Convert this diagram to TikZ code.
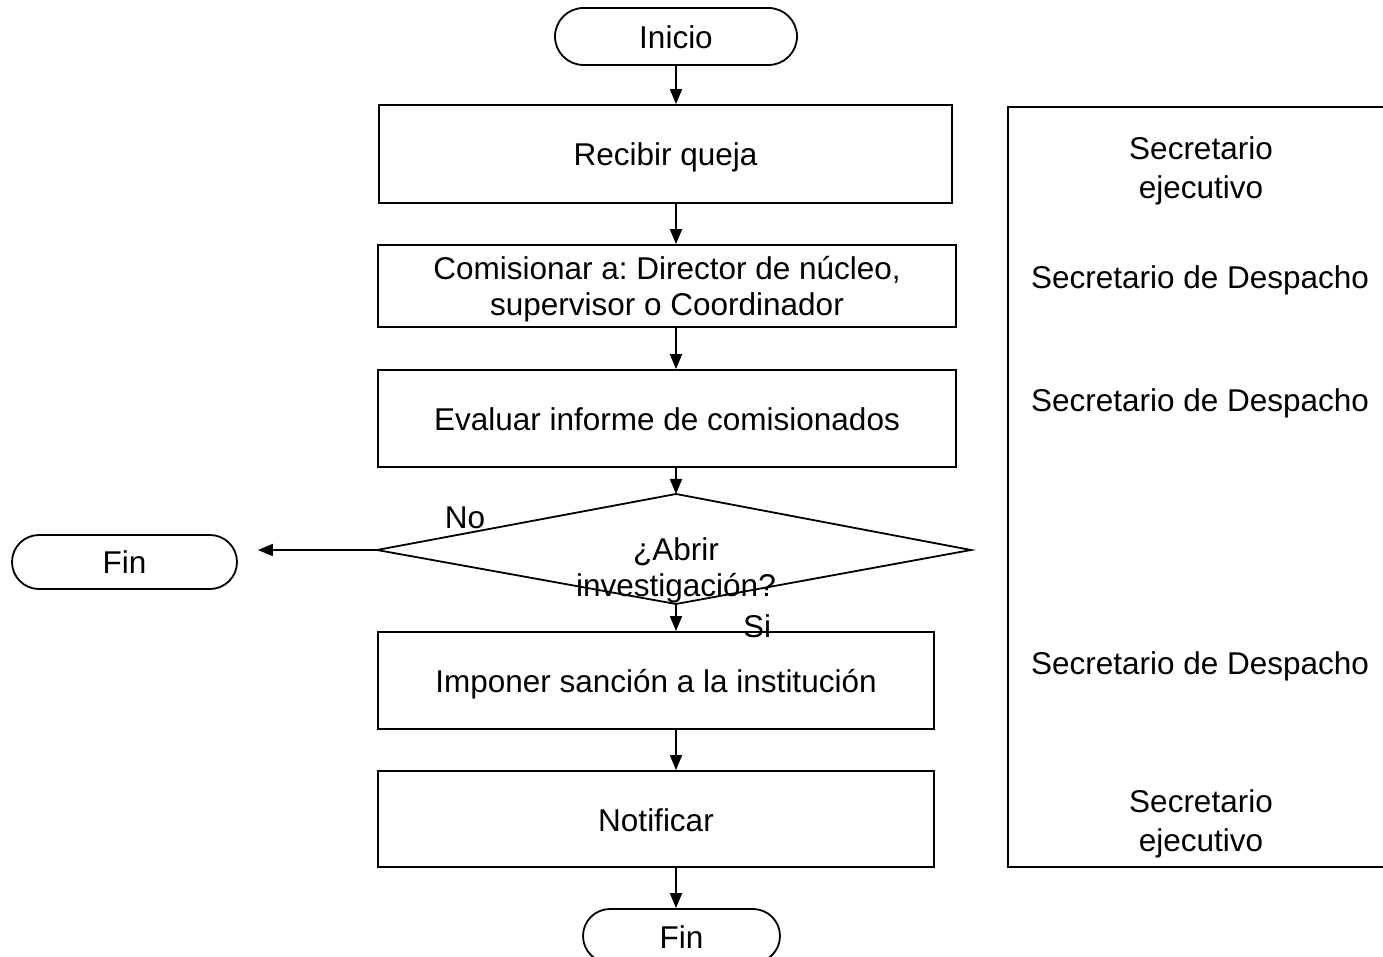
\documentclass[tikz,border=0pt]{standalone}
\usepackage{fontspec}
\setmainfont{Liberation Sans}
\usetikzlibrary{arrows.meta,shapes.misc}
\frenchspacing
\begin{document}
\begin{tikzpicture}[x=0.5pt,y=-0.5pt,
  every node/.style={font=\fontsize{15.75}{18}\selectfont},
  box/.style={draw,line width=0.9pt,inner sep=0pt,align=center},
  one/.style={text height=15pt,text depth=3pt},
  term/.style={draw,line width=0.9pt,rounded rectangle,inner sep=0pt,text height=15pt,text depth=3pt},
  arr/.style={line width=0.9pt,-{Triangle[length=7.5pt,width=6pt]}},
  lbl/.style={inner sep=0pt,align=center,yshift=-2pt},
  lane/.style={inner sep=0pt,align=center,yshift=-2pt,font=\fontsize{15.75}{19.5}\selectfont}]
\useasboundingbox (0,0) rectangle (1383,957);
\clip (0,0) rectangle (1383,957);
% lane box
\node[box,minimum width=196.5pt,minimum height=380pt,anchor=north west] (lanebox) at (1007,106) {};
\node[lane] (r1) at (1201,167) {Secretario\\ejecutivo};
\node[lane] (r2) at (1200,276) {Secretario de Despacho};
\node[lane] (r3) at (1200,399) {Secretario de Despacho};
\node[lane] (r4) at (1200,662) {Secretario de Despacho};
\node[lane] (r5) at (1201,820) {Secretario\\ejecutivo};
% flow
\node[term,minimum width=121pt,minimum height=28.5pt] (inicio) at (676,36.5) {Inicio};
\node[box,one,minimum width=286.5pt,minimum height=49pt] (recibir) at (665.5,154) {Recibir queja};
\node[box,minimum width=289pt,minimum height=41pt,text depth=-1pt] (comis) at (667,286) {Comisionar a: Director de núcleo,\\ supervisor o Coordinador};
\node[box,one,minimum width=289pt,minimum height=48.5pt] (eval) at (667,418.5) {Evaluar informe de comisionados};
\coordinate (dt) at (676,494);
\coordinate (dr) at (971,550);
\coordinate (db) at (676,604);
\coordinate (dl) at (377,550);
\draw[line width=0.9pt] (dt) -- (dr) -- (db) -- (dl) -- cycle;
\node[lbl] (q) at (676,566) {¿Abrir\\investigación?};
\node[lbl] (no) at (465,514) {No};
\node[lbl] (si) at (757,622) {Si};
\node[box,one,minimum width=278pt,minimum height=48.5pt] (imp) at (656,680.5) {Imponer sanción a la institución};
\node[box,one,minimum width=278pt,minimum height=48pt] (notif) at (656,819) {Notificar};
\node[term,minimum width=98.5pt,minimum height=27pt] (finb) at (681.5,936) {Fin};
\node[term,minimum width=112.5pt,minimum height=27pt] (finl) at (124.5,562) {Fin};
% arrows
\draw[arr] (inicio.south) -- (recibir.north -| inicio.south);
\draw[arr] (recibir.south -| inicio.south) -- (comis.north -| inicio.south);
\draw[arr] (comis.south -| dt) -- (eval.north -| dt);
\draw[arr] (eval.south -| dt) -- (dt);
\draw[arr] (db) -- (imp.north -| db);
\draw[arr] (imp.south -| db) -- (notif.north -| db);
\draw[arr] (notif.south -| db) -- (finb.north -| db);
\draw[arr,shorten >=10pt] (dl) -- (finl.east |- dl);
\end{tikzpicture}
\end{document}
